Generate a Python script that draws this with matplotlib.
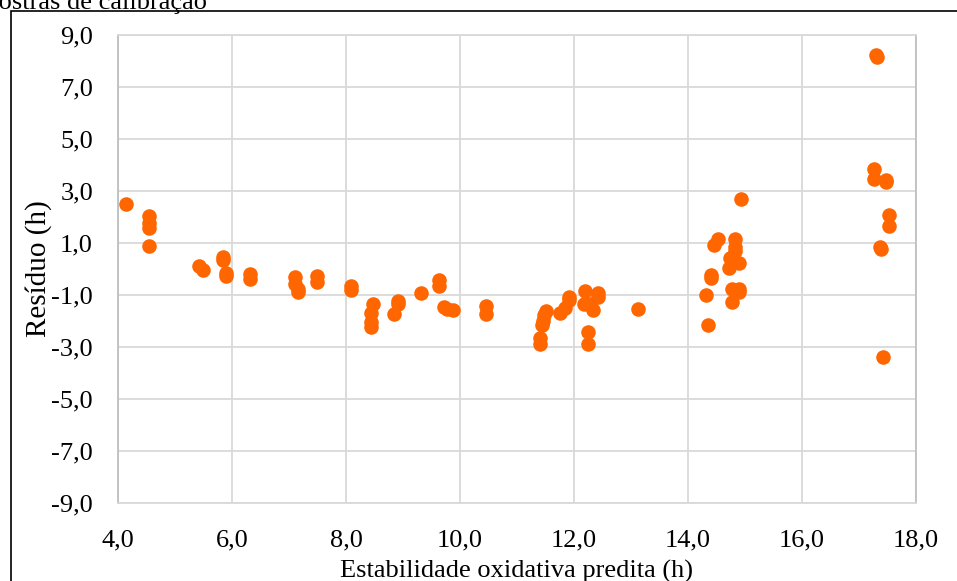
import matplotlib
matplotlib.use("Agg")
import matplotlib.pyplot as plt
from matplotlib.patches import Rectangle

# estabilidade oxidativa predita (h) x resíduo (h)
x_pred = [4.14,
          4.55, 4.55, 4.55, 4.55,
          5.43, 5.49, 5.84, 5.84, 5.90, 5.90, 6.32, 6.32,
          7.10, 7.10, 7.16, 7.16, 7.50, 7.50, 8.09, 8.09,
          8.48, 8.44, 8.44, 8.44, 8.91, 8.91, 8.85, 9.32,
          9.64, 9.64, 9.72, 9.78, 9.87, 10.46, 10.46,
          11.51, 11.48, 11.45, 11.44, 11.40, 11.40,
          11.76, 11.84, 11.91, 11.92,
          12.19, 12.17, 12.29, 12.42, 12.43, 12.34, 12.24, 12.24,
          13.12,
          14.32, 14.36, 14.41, 14.41, 14.45, 14.52,
          14.83, 14.83, 14.83, 14.74, 14.89, 14.73,
          14.78, 14.90, 14.90, 14.78, 14.93,
          17.30, 17.32, 17.27, 17.26, 17.48, 17.48,
          17.53, 17.53, 17.37, 17.39, 17.42]
residuo = [2.47,
           2.02, 1.75, 1.56, 0.88,
           0.12, -0.04, 0.45, 0.33, -0.15, -0.28, -0.2, -0.38,
           -0.3, -0.57, -0.78, -0.9, -0.26, -0.52, -0.65, -0.83,
           -1.37, -1.7, -2.05, -2.24, -1.24, -1.37, -1.72, -0.93,
           -0.42, -0.67, -1.46, -1.55, -1.57, -1.43, -1.72,
           -1.63, -1.79, -2.02, -2.17, -2.65, -2.9,
           -1.7, -1.5, -1.22, -1.08,
           -0.85, -1.34, -1.34, -0.95, -1.08, -1.6, -2.43, -2.9,
           -1.56,
           -1.02, -2.15, -0.25, -0.34, 0.9, 1.16,
           1.16, 0.84, 0.7, 0.43, 0.22, 0.02,
           -0.76, -0.76, -0.89, -1.28, 2.67,
           8.22, 8.12, 3.85, 3.45, 3.42, 3.35,
           2.06, 1.65, 0.84, 0.76, -3.39]

x_ticks = [4, 6, 8, 10, 12, 14, 16, 18]
y_ticks = [-9, -7, -5, -3, -1, 1, 3, 5, 7, 9]

plt.rcParams["font.family"] = ["Liberation Serif", "DejaVu Serif"]

fig = plt.figure(figsize=(9.57, 5.81), dpi=100)
ax = fig.add_axes([0.1233, 0.1343, 0.957 - 0.1233, 0.9406 - 0.1343])

ax.scatter(x_pred, residuo, s=110, color="#ff6600", zorder=3, linewidths=0)

ax.set_xlim(4, 18)
ax.set_ylim(-9, 9)
ax.set_xticks(x_ticks)
ax.set_yticks(y_ticks)
ax.set_xticklabels([f"{v:.1f}".replace(".", ",") for v in x_ticks], fontsize=19)
ax.set_yticklabels([f"{v:.1f}".replace(".", ",") for v in y_ticks], fontsize=19)
ax.tick_params(length=0)
ax.tick_params(axis="x", pad=19)
ax.tick_params(axis="y", pad=18)
ax.grid(color="#d9d9d9", linewidth=1.3)
ax.set_axisbelow(True)
for sp in ax.spines.values():
    sp.set_color("#d9d9d9")
    sp.set_linewidth(1.3)
ax.spines["left"].set_color("#bfbfbf")
ax.spines["right"].set_color("#bfbfbf")

ax.set_xlabel("Estabilidade oxidativa predita (h)", fontsize=19)
ax.xaxis.set_label_coords(0.5, -0.121)
ax.set_ylabel("Resíduo (h)", fontsize=21)
ax.yaxis.set_label_coords(-0.083, 0.5)

# moldura externa e título cortado
fig.patches.append(Rectangle((11 / 957, -0.1), 1.2, 1.1 - 11 / 581,
                             transform=fig.transFigure, fill=False,
                             edgecolor="black", linewidth=1.2))
fig.text(-0.043, 1 - 9 / 581, "Amostras de calibração", fontsize=19,
         va="baseline", ha="left")

fig.savefig("out.png", dpi=100)
